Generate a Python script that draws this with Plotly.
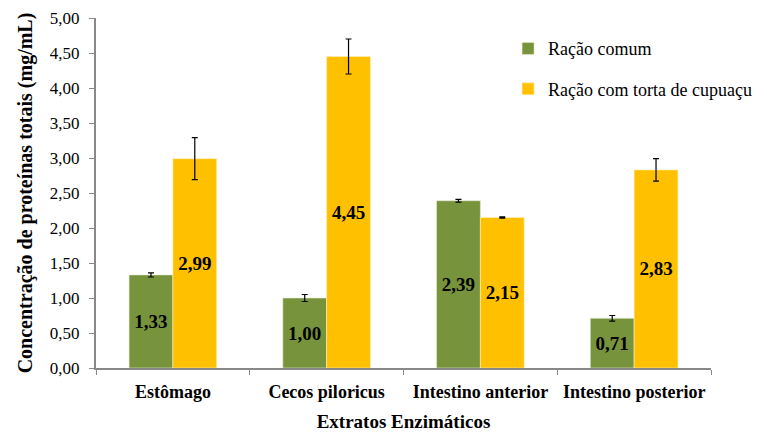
import plotly.graph_objects as go

categories = ["Estômago", "Cecos piloricus", "Intestino anterior", "Intestino posterior"]
racao_comum = [1.33, 1.00, 2.39, 0.71]
racao_comum_err = [0.03, 0.05, 0.02, 0.04]
racao_cupuacu = [2.99, 4.45, 2.15, 2.83]
racao_cupuacu_err = [0.30, 0.25, 0.01, 0.16]
y_ticks = [0, 0.5, 1, 1.5, 2, 2.5, 3, 3.5, 4, 4.5, 5]

ff = "Liberation Serif, Times New Roman, serif"

fig = go.Figure()
fig.add_trace(go.Bar(
    x=categories, y=racao_comum, name="Ração comum", legendgroup="a",
    marker=dict(color="#77933C", line=dict(color="#E8EBD8", width=0.6)),
    error_y=dict(type="data", array=racao_comum_err, color="black", thickness=1.2, width=3),
    texttemplate="%{y:.2f}", textposition="inside", insidetextanchor="middle",
    textfont=dict(family=ff, size=19, color="black", weight="bold"),
    textangle=0,
))
fig.add_trace(go.Bar(
    x=categories, y=racao_cupuacu, name="Ração com torta de cupuaçu", legendgroup="b",
    marker=dict(color="#FFC000", line=dict(color="#FFF0C0", width=0.6)),
    error_y=dict(type="data", array=racao_cupuacu_err, color="black", thickness=1.2, width=3),
    texttemplate="%{y:.2f}", textposition="inside", insidetextanchor="middle",
    textfont=dict(family=ff, size=19, color="black", weight="bold"),
    textangle=0,
))

# page body has an 8px margin, so the figure is sized/offset to compensate
fig.update_layout(
    width=759, height=424,
    margin=dict(l=88, r=44, t=10, b=64),
    paper_bgcolor="white", plot_bgcolor="white",
    separators=",.",
    barmode="group", bargap=0.43, bargroupgap=0,
    font=dict(family=ff, size=16, color="black"),
    legend=dict(x=0.67, y=0.965, xanchor="left", yanchor="top",
                font=dict(family=ff, size=18), tracegroupgap=14,
                bgcolor="rgba(0,0,0,0)"),
    uniformtext=dict(mode="show", minsize=10),
)
fig.update_xaxes(
    automargin=False,
    showline=True, linecolor="#888888", linewidth=2,
    ticks="outside", tickson="boundaries", tickcolor="#888888", ticklen=5,
    ticklabelstandoff=6,
    tickfont=dict(family=ff, size=18, weight="bold"),
    title=dict(text="Extratos Enzimáticos", font=dict(family=ff, size=19, weight="bold"), standoff=16),
    showgrid=False,
)
fig.update_yaxes(
    automargin=False,
    range=[0, 5], tickvals=y_ticks, tickformat=".2f",
    showline=True, linecolor="#888888", linewidth=2,
    ticks="outside", tickcolor="#888888", ticklen=5, ticklabelstandoff=6,
    ticklabeloverflow="allow",
    tickfont=dict(family=ff, size=17),
    title=dict(text="Concentração de proteínas totais (mg/mL)", font=dict(family=ff, size=20, weight="bold"), standoff=12),
    showgrid=False, zeroline=False,
)

fig.write_html("out.html")
